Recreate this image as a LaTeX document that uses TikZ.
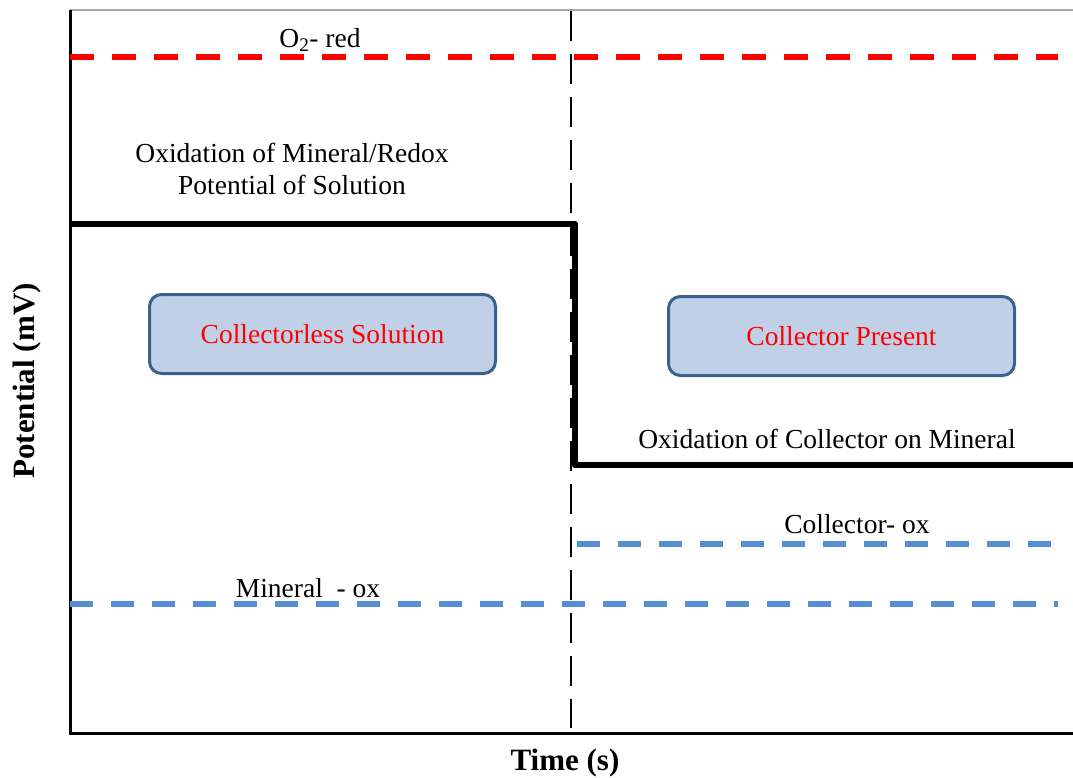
\documentclass[tikz,border=0pt]{standalone}
\usepackage{fontspec}
\setmainfont{Liberation Serif}
\definecolor{oxred}{RGB}{255,0,0}
\definecolor{oxblue}{RGB}{85,142,213}
\definecolor{boxfill}{RGB}{192,208,230}
\definecolor{boxline}{RGB}{60,96,140}
\begin{document}
\begin{tikzpicture}[x=1pt,y=-1pt,
  lbl/.style={font=\fontsize{27.5}{32}\selectfont, inner sep=0pt},
  axlbl/.style={font=\fontsize{31}{36}\selectfont\bfseries, inner sep=0pt},
  statebox/.style={draw=boxline, line width=3pt, fill=boxfill, rounded corners=12pt,
    minimum width=346pt, minimum height=79pt, text=oxred,
    font=\fontsize{27.5}{32}\selectfont},
  reddash/.style={oxred, line width=6pt, dash pattern=on 24pt off 18pt},
  bluedash/.style={oxblue, line width=5.5pt, dash pattern=on 23pt off 18pt},
  divider/.style={black, line width=2.5pt, dash pattern=on 30pt off 13pt},
  stepline/.style={black, line width=6.5pt, line join=round}]
\useasboundingbox (0,0) rectangle (1073,778);

% frame of the plot
\draw[gray!70, line width=1.5pt] (70,10) -- (1073,10);
\draw[black, line width=3pt] (70,10) -- (70,733) -- (1073,733);

% reference potentials
\draw[reddash] (70,57) -- (1058,57);
\draw[bluedash] (70,604) -- (1058,604);
\draw[bluedash] (577,544) -- (1058,544);

% measured potential before and after collector addition
\draw[stepline] (70,224) -- (575,224) -- (575,465) -- (1073,465);

% time of collector addition
\draw[divider] (571,11) -- (571,728);

% labels
\node[lbl] (o2) at (320,40) {O\textsubscript{2}- red};
\node[lbl, align=center] (oxmin) at (292,169) {Oxidation of Mineral/Redox\\Potential of Solution};
\node[lbl] (oxcol) at (827,439) {Oxidation of Collector on Mineral};
\node[lbl] (colox) at (857,524) {Collector- ox};
\node[lbl] (minox) at (308,588) {Mineral~ - ox};

\node[statebox] (nocol) at (322.5,334) {Collectorless Solution};
\node[statebox] (col) at (841.5,336) {Collector Present};

\node[axlbl] (xlab) at (565,763) {Time (s)};
\node[axlbl, rotate=90] (ylab) at (27,381) {Potential (mV)};
\end{tikzpicture}
\end{document}
